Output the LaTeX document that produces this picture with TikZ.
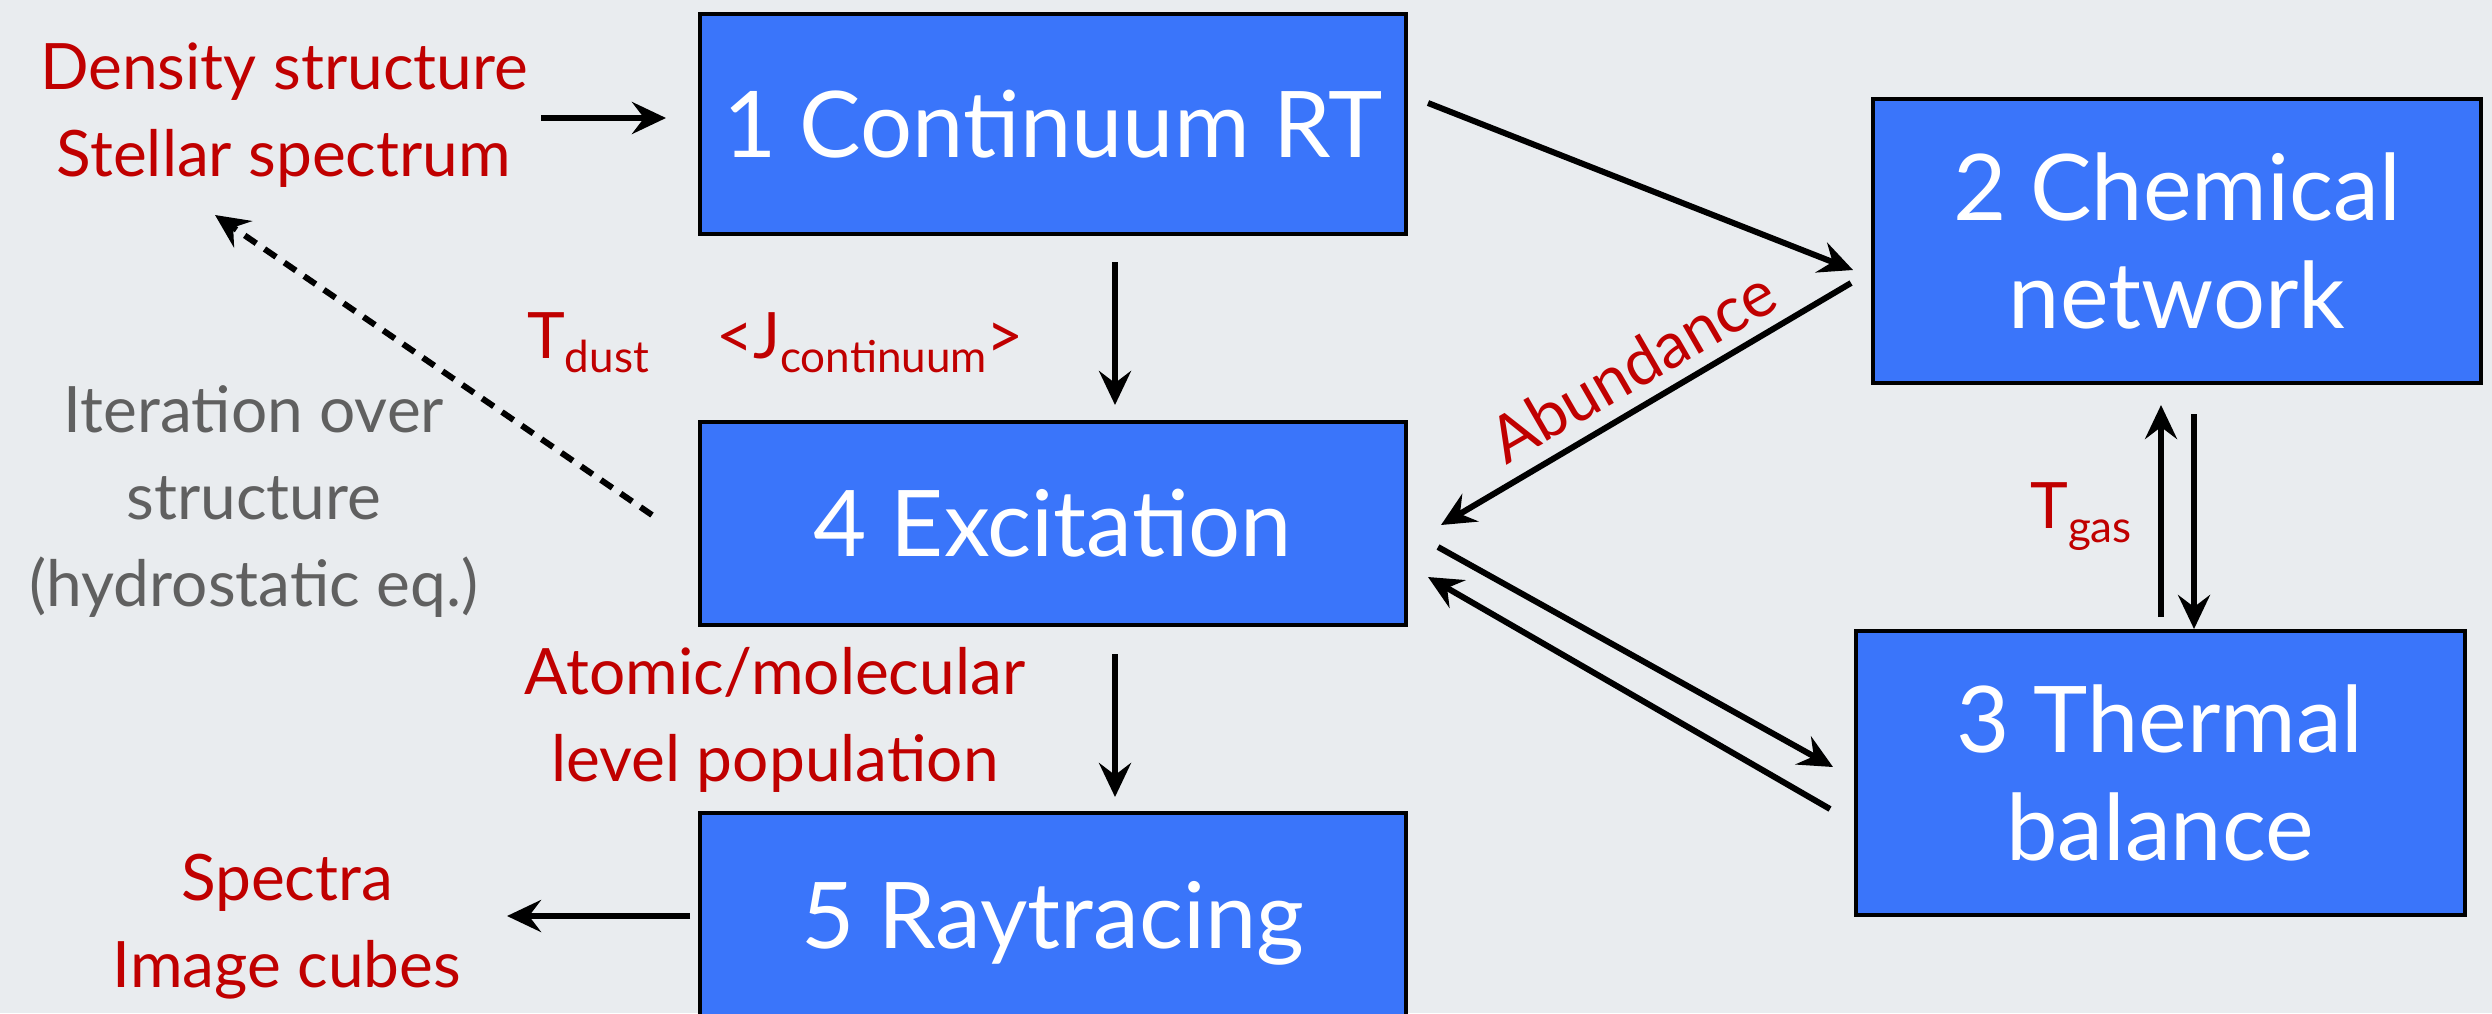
\documentclass[tikz,border=0pt]{standalone}
\usepackage{fontspec}
\setmainfont{Lato}
\usetikzlibrary{arrows.meta}
\definecolor{bg}{RGB}{233,236,239}
\definecolor{boxblue}{RGB}{58,117,250}
\definecolor{lblred}{RGB}{192,0,0}
\definecolor{itgray}{RGB}{96,96,96}
\tikzset{
  box/.style={draw=black, line width=2pt, fill=boxblue, text=white, inner sep=0pt,
    font=\fontsize{46}{54}\selectfont, align=center},
  redlbl/.style={text=lblred, inner sep=0pt, align=center, font=\fontsize{32}{43.5}\selectfont},
  graylbl/.style={text=itgray, inner sep=0pt, align=center, font=\fontsize{32}{43.5}\selectfont},
  arr/.style={line width=3pt, -{Stealth[length=17pt,width=16pt,inset=6pt]}},
  dasharr/.style={arr, dash pattern=on 7pt off 5pt},
}
\newcommand{\subtxt}[1]{\raisebox{-7pt}{\fontsize{22}{24}\selectfont #1}}
\begin{document}
\begin{tikzpicture}[x=0.5pt,y=-0.5pt]
\fill[bg] (0,0) rectangle (2492,1013);
\useasboundingbox (0,0) rectangle (2492,1013);
\clip (0,0) rectangle (2492,1013);
% boxes
\node[box, minimum width=353pt, minimum height=110pt] (b1) at (1053,124) {1 Continuum RT};
\node[box, minimum width=304pt, minimum height=142pt] (b2) at (2177,241) {2 Chemical\\network};
\node[box, minimum width=304.5pt, minimum height=142pt] (b3) at (2160,773) {3 Thermal\\balance};
\node[box, minimum width=353pt, minimum height=101.5pt] (b4) at (1053,523.5) {4 Excitation};
\node[box, minimum width=353pt, minimum height=110pt] (b5) at (1053,923) {5 Raytracing};
% labels
\node[redlbl] (inp) at (284,115) {Density structure\\Stellar spectrum};
\node[graylbl] (iter) at (254,502) {Iteration over\\structure\\(hydrostatic eq.)};
\node[redlbl, anchor=base] (tdust) at (588,358) {T\subtxt{dust}};
\node[redlbl, anchor=base] (jcont) at (870,358) {<J\subtxt{continuum}>};
\node[redlbl] (pop) at (775,720) {Atomic/molecular\\level population};
\node[redlbl] (out) at (287,927) {Spectra\\Image cubes};
\node[redlbl, anchor=base] (tgas) at (2081,528) {T\subtxt{gas}};
\node[redlbl, rotate=30] (abund) at (1632,366) {Abundance};
% connector ends
\coordinate (inE) at (541,118);
\coordinate (b1W) at (666,118);
\coordinate (dS) at (652,515);
\coordinate (dE) at (215,215);
\coordinate (b1S) at (1115,262);
\coordinate (b4N) at (1115,405);
\coordinate (b4S) at (1115,654);
\coordinate (b5N) at (1115,797);
\coordinate (b5W) at (690,916);
\coordinate (outE) at (507,916);
\coordinate (a12s) at (1428,103);
\coordinate (a12e) at (1853,270);
\coordinate (a24s) at (1851,283);
\coordinate (a24e) at (1441,525);
\coordinate (a43s) at (1438,547);
\coordinate (a43e) at (1833,767);
\coordinate (a34s) at (1830,809);
\coordinate (a34e) at (1428,577);
\coordinate (a32s) at (2161,617);
\coordinate (a32e) at (2161,405);
\coordinate (a23s) at (2194,414);
\coordinate (a23e) at (2194,629);
% connectors
\draw[arr] (inE) -- (b1W);
\draw[dasharr] (dS) -- (dE);
\draw[arr] (b1S) -- (b4N);
\draw[arr] (b4S) -- (b5N);
\draw[arr] (b5W) -- (outE);
\draw[arr] (a12s) -- (a12e);
\draw[arr] (a24s) -- (a24e);
\draw[arr] (a43s) -- (a43e);
\draw[arr] (a34s) -- (a34e);
\draw[arr] (a32s) -- (a32e);
\draw[arr] (a23s) -- (a23e);
\end{tikzpicture}
\end{document}
